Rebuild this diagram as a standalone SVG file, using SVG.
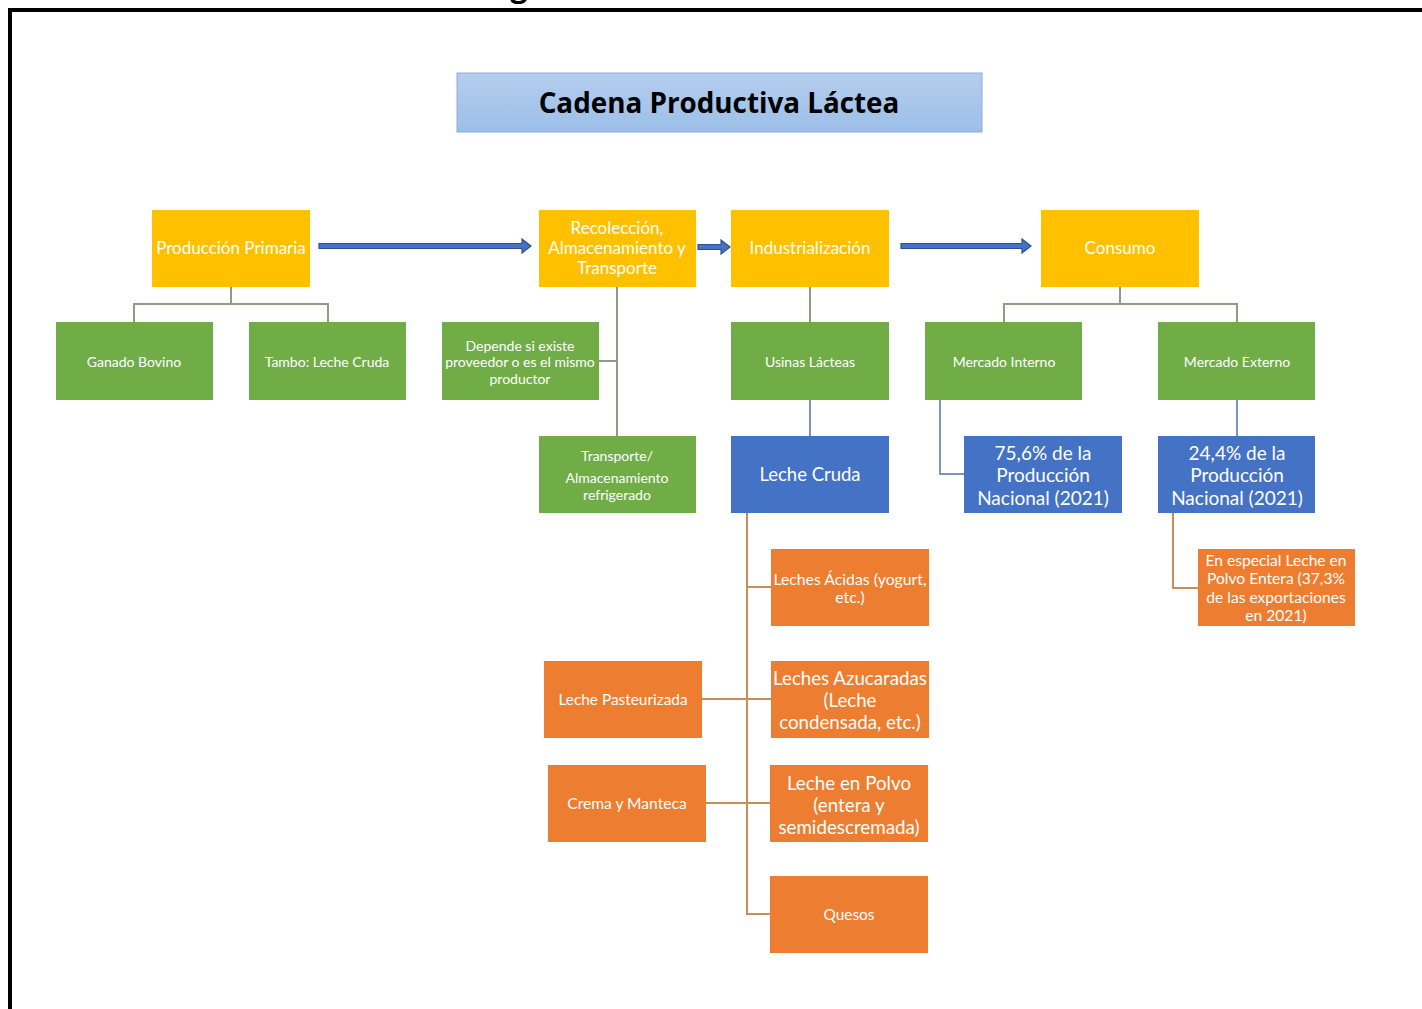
<svg xmlns="http://www.w3.org/2000/svg" width="1422" height="1009" viewBox="0 0 1422 1009">
<defs>
<linearGradient id="tg" x1="0" y1="0" x2="0" y2="1">
<stop offset="0" stop-color="#b6cdee"/>
<stop offset="1" stop-color="#9cbfe8"/>
</linearGradient>
</defs>
<style>
text{font-family:"Lato","Open Sans","Liberation Sans",sans-serif;fill:#fff;text-anchor:middle;dominant-baseline:central}
.y{fill:#ffc000}
.g{fill:#70ad47}
.b{fill:#4472c4}
.o{fill:#ed7d31}
.cg{stroke:#8e9c86;stroke-width:2;fill:none}
.cb{stroke:#7d93b8;stroke-width:2;fill:none}
.co{stroke:#c98d58;stroke-width:2;fill:none}
.ar{fill:#4472c4;stroke:#2f528f;stroke-width:1.2}
.t17{font-size:17px}
.t14{font-size:14px}
</style>
<rect width="1422" height="1009" fill="#fff"/>
<text x="519" y="-3" style="font-size:30px;font-weight:bold;fill:#000;font-family:'Open Sans','Liberation Sans',sans-serif;dominant-baseline:auto">g</text>
<path d="M10,1012 V10 H1425" fill="none" stroke="#000" stroke-width="4"/>

<g id="title">
<rect x="457" y="73" width="525" height="59" fill="url(#tg)" stroke="#8fadd9" stroke-width="1"/>
<text x="719" y="102" style="fill:#000;font-weight:bold;font-size:27.8px;font-family:'Open Sans','Liberation Sans',sans-serif">Cadena Productiva Láctea</text>
</g>

<g id="connectors">
<path class="cg" d="M231,287 V304 M134,322 V304 H328 V322"/>
<path class="cg" d="M617,287 V436 M599,361 H617"/>
<path class="cg" d="M810,287 V322"/>
<path class="cb" d="M810,400 V436"/>
<path class="cg" d="M1120,287 V304 M1004,322 V304 H1237 V322"/>
<path class="cb" d="M940,400 V474 H964"/>
<path class="cb" d="M1237,400 V436"/>
<path class="co" d="M1173,513 V588 H1198"/>
<path class="co" d="M747,513 V914 H770 M747,587 H771 M747,699 H771 M747,803 H770 M702,699 H747 M706,803 H747"/>
<polygon class="ar" points="319,243.5 522,243.5 522,239 531,246 522,253 522,248.5 319,248.5"/>
<polygon class="ar" points="698,244.5 721,244.5 721,240 730,247 721,254 721,249.5 698,249.5"/>
<polygon class="ar" points="901,243.5 1022,243.5 1022,239 1031,246 1022,253 1022,248.5 901,248.5"/>
</g>

<g id="n-produccion"><rect class="y" x="152" y="210" width="158" height="77"/><text class="t17" x="231" y="247">Producción Primaria</text></g>
<g id="n-recoleccion"><rect class="y" x="539" y="210" width="157" height="77"/><text class="t17" x="617" y="227">Recolección,</text><text class="t17" x="617" y="247">Almacenamiento y</text><text class="t17" x="617" y="267">Transporte</text></g>
<g id="n-industrializacion"><rect class="y" x="731" y="210" width="158" height="77"/><text class="t17" x="810" y="247">Industrialización</text></g>
<g id="n-consumo"><rect class="y" x="1041" y="210" width="158" height="77"/><text class="t17" x="1120" y="247">Consumo</text></g>

<g id="n-ganado"><rect class="g" x="56" y="322" width="157" height="78"/><text class="t14" x="134" y="361">Ganado Bovino</text></g>
<g id="n-tambo"><rect class="g" x="249" y="322" width="157" height="78"/><text class="t14" x="327" y="361">Tambo: Leche Cruda</text></g>
<g id="n-depende"><rect class="g" x="442" y="322" width="157" height="78"/><text class="t14" x="520" y="345">Depende si existe</text><text class="t14" x="520" y="361">proveedor o es el mismo</text><text class="t14" x="520" y="378">productor</text></g>
<g id="n-usinas"><rect class="g" x="731" y="322" width="158" height="78"/><text class="t14" x="810" y="361">Usinas Lácteas</text></g>
<g id="n-interno"><rect class="g" x="925" y="322" width="157" height="78"/><text class="t14" x="1004" y="361">Mercado Interno</text></g>
<g id="n-externo"><rect class="g" x="1158" y="322" width="157" height="78"/><text class="t14" x="1237" y="361">Mercado Externo</text></g>
<g id="n-transporte"><rect class="g" x="539" y="436" width="157" height="77"/><text class="t14" x="617" y="455">Transporte/</text><text class="t14" x="617" y="477">Almacenamiento</text><text class="t14" x="617" y="494">refrigerado</text></g>

<g id="n-lechecruda"><rect class="b" x="731" y="436" width="158" height="77"/><text x="810" y="474" style="font-size:18.5px">Leche Cruda</text></g>
<g id="n-756"><rect class="b" x="964" y="436" width="158" height="77"/><text x="1043" y="452" style="font-size:19px">75,6% de la</text><text x="1043" y="474" style="font-size:19px">Producción</text><text x="1043" y="497" style="font-size:19px">Nacional (2021)</text></g>
<g id="n-244"><rect class="b" x="1158" y="436" width="157" height="77"/><text x="1237" y="452" style="font-size:19px">24,4% de la</text><text x="1237" y="474" style="font-size:19px">Producción</text><text x="1237" y="497" style="font-size:19px">Nacional (2021)</text></g>

<g id="n-acidas"><rect class="o" x="771" y="549" width="158" height="77"/><text x="850" y="578" style="font-size:15.8px">Leches Ácidas (yogurt,</text><text x="850" y="596" style="font-size:15.8px">etc.)</text></g>
<g id="n-azucaradas"><rect class="o" x="771" y="661" width="158" height="77"/><text x="850" y="678" style="font-size:18.7px">Leches Azucaradas</text><text x="850" y="700" style="font-size:18.7px">(Leche</text><text x="850" y="722" style="font-size:18.7px">condensada, etc.)</text></g>
<g id="n-polvo"><rect class="o" x="770" y="765" width="158" height="77"/><text x="849" y="782" style="font-size:18.8px">Leche en Polvo</text><text x="849" y="804" style="font-size:18.8px">(entera y</text><text x="849" y="826" style="font-size:18.8px">semidescremada)</text></g>
<g id="n-quesos"><rect class="o" x="770" y="876" width="158" height="77"/><text x="849" y="914" style="font-size:15.4px">Quesos</text></g>
<g id="n-pasteurizada"><rect class="o" x="544" y="661" width="158" height="77"/><text x="623" y="699" style="font-size:15.4px">Leche Pasteurizada</text></g>
<g id="n-crema"><rect class="o" x="548" y="765" width="158" height="77"/><text x="627" y="803" style="font-size:15.6px">Crema y Manteca</text></g>
<g id="n-especial"><rect class="o" x="1198" y="549" width="157" height="77"/><text x="1276" y="560" style="font-size:15.6px">En especial Leche en</text><text x="1276" y="578" style="font-size:15.6px">Polvo Entera (37,3%</text><text x="1276" y="597" style="font-size:15.6px">de las exportaciones</text><text x="1276" y="615" style="font-size:15.6px">en 2021)</text></g>
</svg>
